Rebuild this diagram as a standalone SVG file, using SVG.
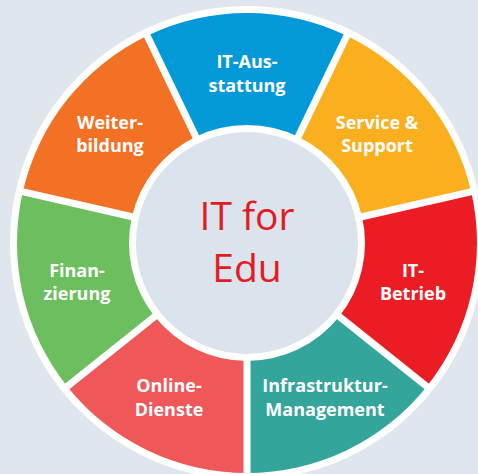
<svg xmlns="http://www.w3.org/2000/svg" width="478" height="474" viewBox="0 0 478 474">
<style>
.lbl{font-family:"Open Sans","Noto Sans","Liberation Sans",sans-serif;font-weight:700;font-size:18px;fill:#ffffff;text-anchor:middle}
.ctr{font-family:"Open Sans","Noto Sans","Liberation Sans",sans-serif;font-weight:400;font-size:39px;fill:#e31b23;text-anchor:middle}
.gap{stroke:#ffffff;stroke-width:7;fill:none}
</style>
<rect x="0" y="0" width="478" height="474" fill="#dfe6ed"/>
<circle cx="247" cy="243" r="237" fill="#ffffff"/>
<g id="online-dienste">
<path d="M247,473 A230,230 0 0 1 67.18,386.40 L154.74,316.57 A118,118 0 0 0 247,361 Z" fill="#ef5759"/>
<text class="lbl" x="169" y="392">Online-</text>
<text class="lbl" x="169" y="416">Dienste</text>
</g>
<g id="finanzierung">
<path d="M67.18,386.40 A230,230 0 0 1 22.77,191.82 L131.96,216.74 A118,118 0 0 0 154.74,316.57 Z" fill="#6dbe5e"/>
<text class="lbl" x="77" y="277">Finan-</text>
<text class="lbl" x="77" y="300">zierung</text>
</g>
<g id="weiterbildung">
<path d="M22.77,191.82 A230,230 0 0 1 147.21,35.78 L195.80,136.69 A118,118 0 0 0 131.96,216.74 Z" fill="#f37124"/>
<text class="lbl" x="110" y="129">Weiter-</text>
<text class="lbl" x="110" y="152">bildung</text>
</g>
<g id="it-ausstattung">
<path d="M147.21,35.78 A230,230 0 0 1 346.79,35.78 L298.20,136.69 A118,118 0 0 0 195.80,136.69 Z" fill="#0399d8"/>
<text class="lbl" x="247" y="68">IT-Aus-</text>
<text class="lbl" x="247" y="92">stattung</text>
</g>
<g id="service-support">
<path d="M346.79,35.78 A230,230 0 0 1 471.23,191.82 L362.04,216.74 A118,118 0 0 0 298.20,136.69 Z" fill="#f9af1e"/>
<text class="lbl" x="377" y="129">Service &amp;</text>
<text class="lbl" x="377" y="152">Support</text>
</g>
<g id="it-betrieb">
<path d="M471.23,191.82 A230,230 0 0 1 426.82,386.40 L339.26,316.57 A118,118 0 0 0 362.04,216.74 Z" fill="#ec1c25"/>
<text class="lbl" x="413" y="277">IT-</text>
<text class="lbl" x="413" y="300">Betrieb</text>
</g>
<g id="infrastruktur-management">
<path d="M426.82,386.40 A230,230 0 0 1 247,473 L247,361 A118,118 0 0 0 339.26,316.57 Z" fill="#33a59a"/>
<text class="lbl" x="325" y="392">Infrastruktur-</text>
<text class="lbl" x="325" y="416">Management</text>
</g>
<g id="gaps">
<line class="gap" x1="247" y1="353" x2="247" y2="477"/>
<line class="gap" x1="161.00" y1="311.58" x2="64.05" y2="388.90"/>
<line class="gap" x1="139.76" y1="218.52" x2="18.87" y2="190.93"/>
<line class="gap" x1="199.27" y1="143.89" x2="145.47" y2="32.17"/>
<line class="gap" x1="294.73" y1="143.89" x2="348.53" y2="32.17"/>
<line class="gap" x1="354.24" y1="218.52" x2="475.13" y2="190.93"/>
<line class="gap" x1="333.00" y1="311.58" x2="429.95" y2="388.90"/>
</g>
<g id="center">
<circle cx="247" cy="243" r="111" fill="#dbe3ec"/>
<text class="ctr" x="247" y="230">IT for</text>
<text class="ctr" x="247" y="282">Edu</text>
</g>
</svg>
